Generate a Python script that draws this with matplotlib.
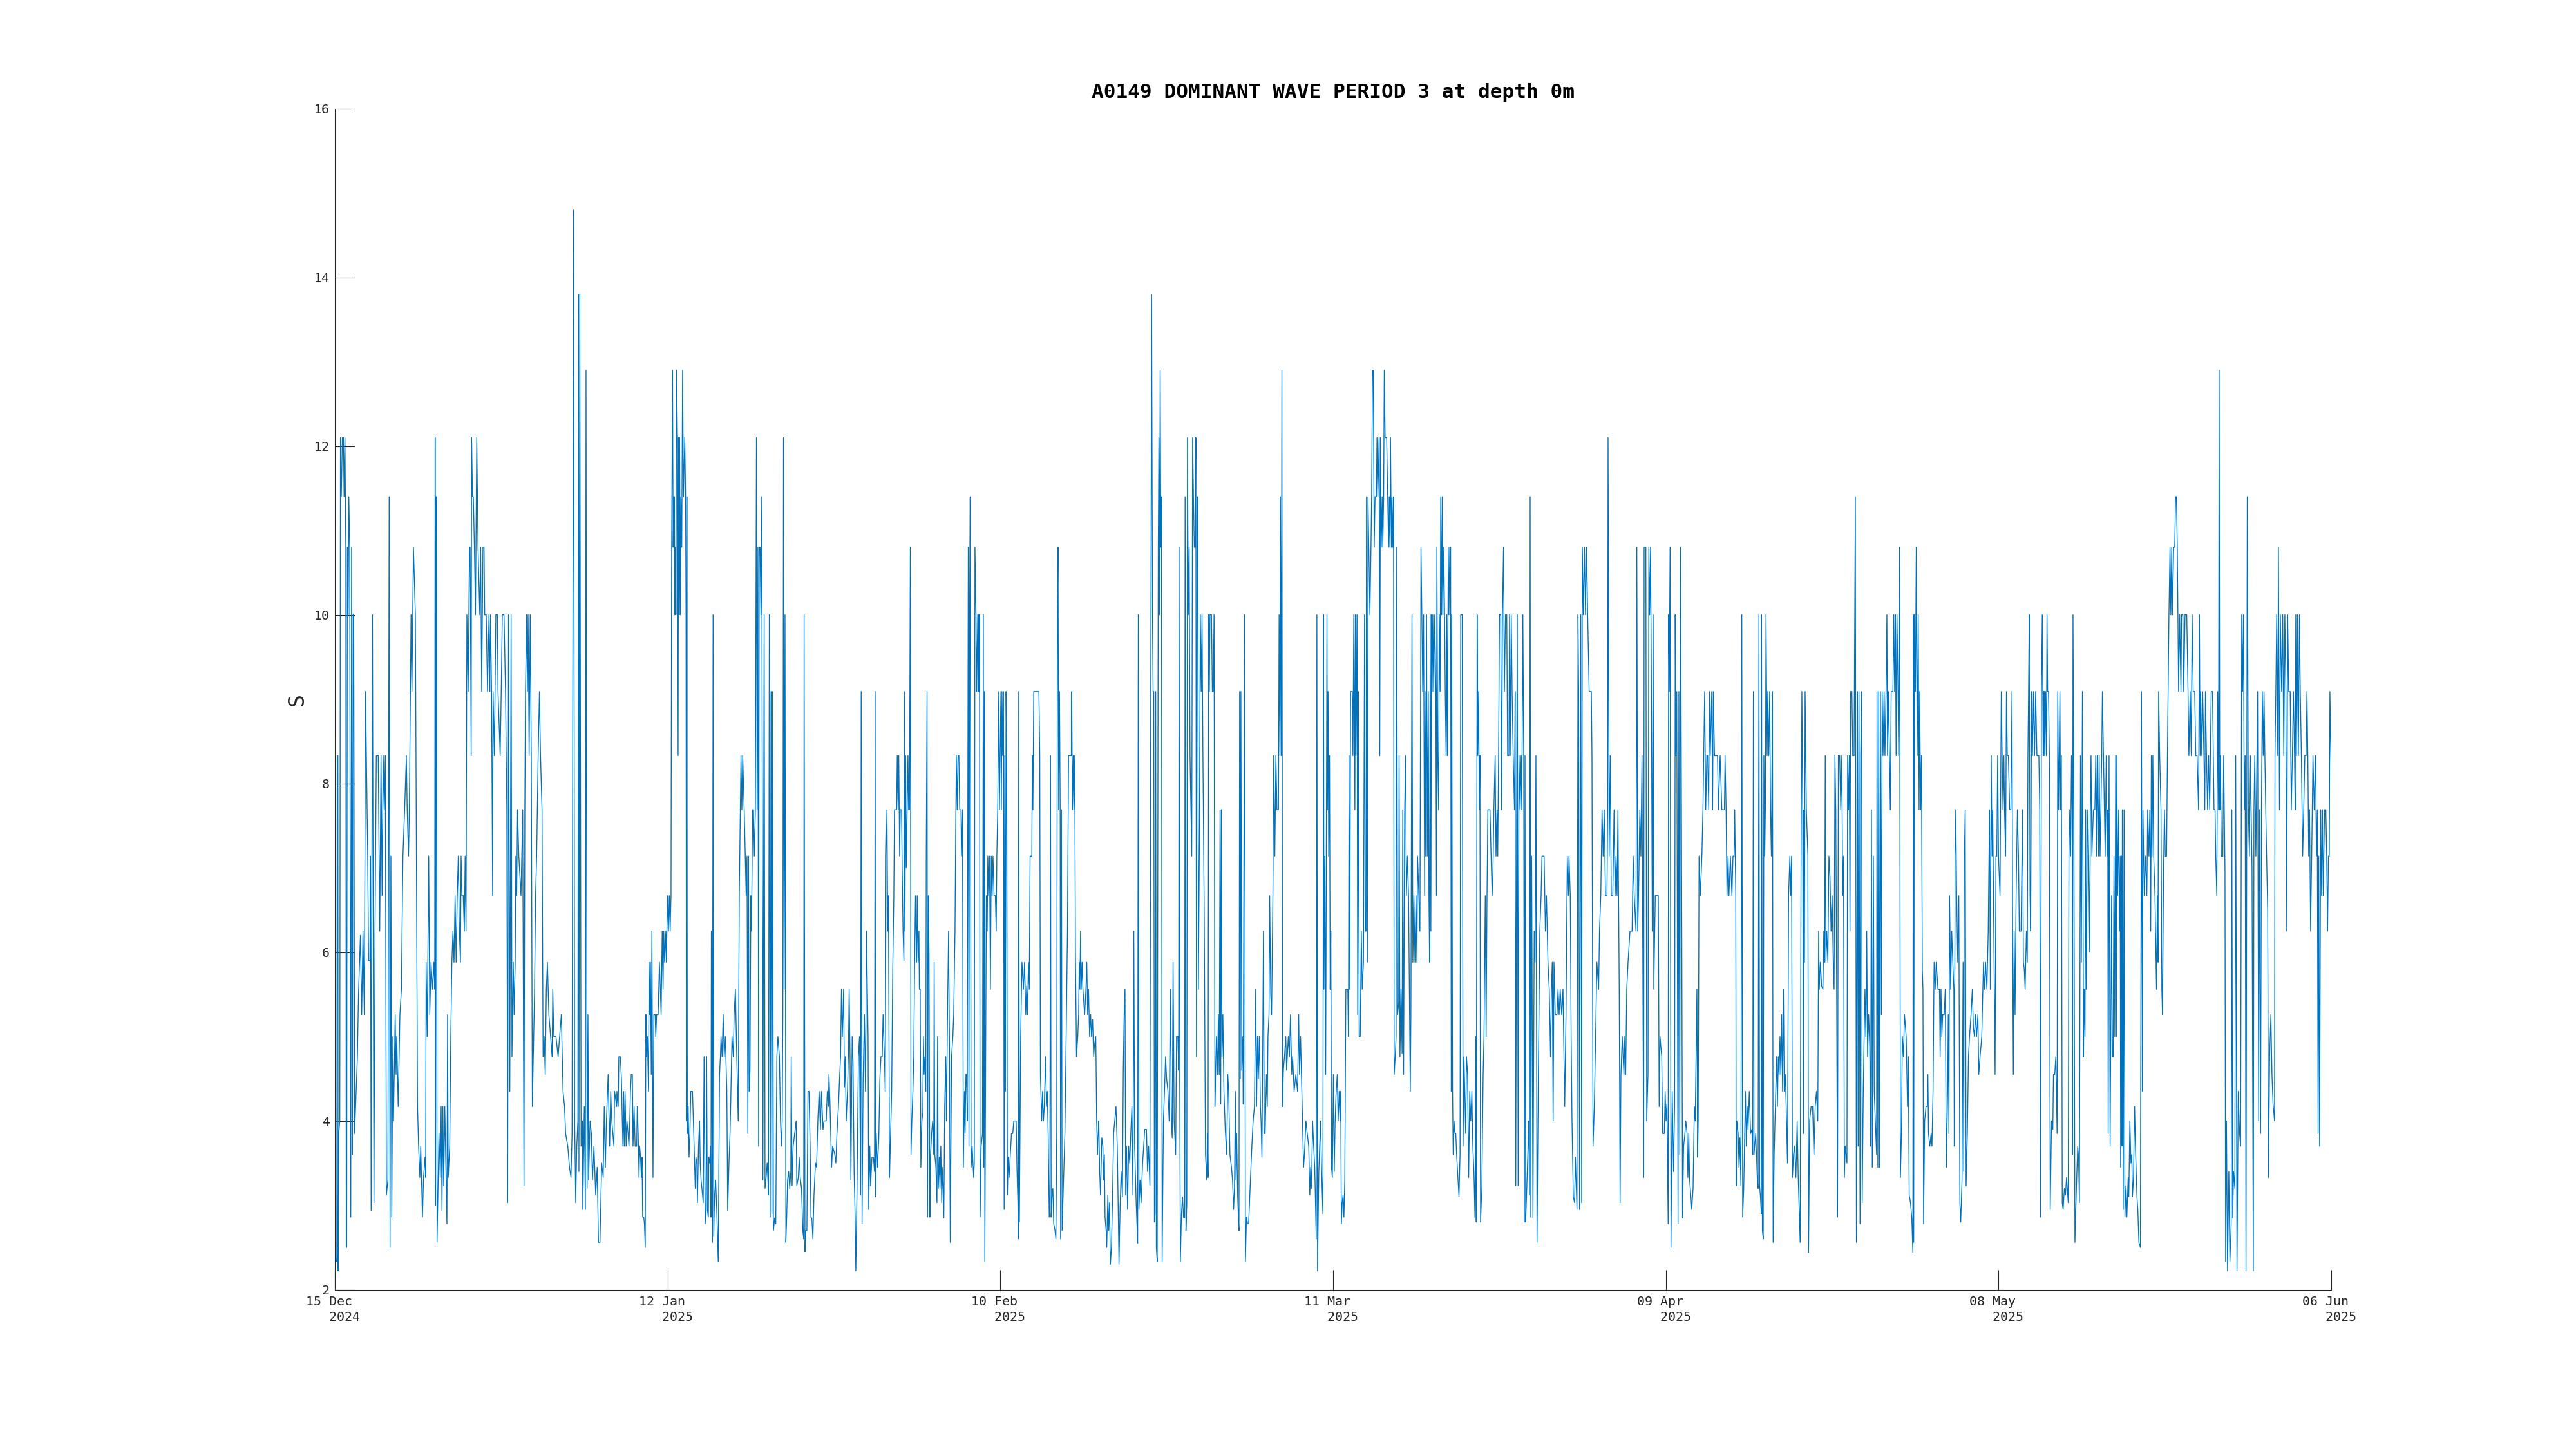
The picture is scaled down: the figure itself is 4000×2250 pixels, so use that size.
import numpy as np
import matplotlib
matplotlib.use('Agg')
import matplotlib.pyplot as plt
import matplotlib.dates as mdates
from matplotlib.transforms import ScaledTranslation

# 读图得到的数据: 每段是 t, 周期 交替排列, t 的单位是 1/53.76 天, 从该段起点算
SCAN_PER_DAY = 53.76
block_start = [-0.28, 24.44, 49.16, 73.88, 98.61, 123.33, 148.05]

block_a = [15,2.6, 20,2.33, 24,2.33, 26,8.33, 29,8.33, 30,2.22, 33,3.85, 38,4.0, 41,12.1, 45,11.4, 50,12.1, 55,12.1,
    58,11.4, 62,12.1, 66,10.8, 68,2.5, 70,2.5, 73,10.8, 77,10, 80,11.4, 84,10.8, 89,2.86, 93,10.8, 97,3.6, 100,10, 103,10,
    107,3.85, 120,4.76, 125,5.5, 130,5.9, 134,6.2, 140,5.26, 146,6.25, 152,5.26, 158,9.09, 168,7.14, 172,5.9, 178,5.9,
    181,7.14, 184,2.94, 190,10, 197,3.03, 202,6.25, 208,8.33, 217,8.33, 224,6.25, 230,8.33, 235,6.67, 240,8.33, 245,7.69,
    250,8.33, 255,3.12, 262,3.3, 268,11.4, 272,2.5, 276,7.14, 280,2.86, 285,5, 288,4, 296,5.26, 300,4.55, 303,5, 310,4.17,
    318,5.26, 325,5.56, 332,7.14, 340,7.69, 348,8.33, 352,7.69, 358,7.14, 362,7.69, 370,10, 374,9.09, 381,10.8, 390,10,
    400,4.17, 405,3.7, 411,3.33, 415,3.7, 423,2.86, 428,3.33, 435,3.57, 438,3.33, 440,5.88, 445,5, 452,7.14, 457,5.26,
    463,5.88, 470,5.56, 476,5.88, 480,5.56, 482,12.1, 484,3.0, 486,11.4, 488,11.4, 491,2.56, 500,3.85, 506,3.33, 510,4.17,
    514,2.94, 518,4.17, 522,3.23, 527,4.17, 537,2.78, 540,5.26, 543,3.33, 550,3.7, 555,5, 560,5.88, 565,6.25, 570,5.88,
    575,6.67, 580,5.88, 585,6.67, 590,7.14, 595,6.25, 600,5.88, 603,7.14, 607,6.67, 613,6.67, 618,6.25, 622,7.14, 626,6.25,
    630,10, 636,9.09, 642,10.8, 645,10.8, 650,8.33, 652,12.1, 656,11.4, 660,11.4, 665,10.8, 670,10, 676,12.1, 682,10.8,
    690,10, 694,10.8, 699,9.09, 705,10.8, 710,10.8, 713,10, 720,10, 726,9.09, 733,10, 737,9.09, 740,10, 745,9.09, 750,6.67,
    752,9.09, 758,8.33, 765,10, 772,10, 775,9.09, 785,8.33, 790,9.09, 795,10, 803,10, 810,9.09, 816,7.69, 820,3.03, 824,10,
    830,4.35, 836,10, 840,4.76, 846,5.88, 850,5.26, 855,5.88, 858,7.14, 862,6.67, 866,7.69, 872,7.14, 882,6.67, 890,7.69,
    896,3.23, 900,7.69, 903,9.09, 908,10, 912,9.09, 915,10, 920,8.33, 925,10, 930,8.33, 935,4.17, 945,5.5, 950,6.67,
    955,7.14, 962,8.33, 968,9.09, 973,8.33, 980,7.69, 985,4.76, 990,5, 995,4.55, 1000,5.56, 1005,5.88, 1012,5.26, 1020,5,
    1027,4.76, 1030,5.56, 1035,5, 1045,5, 1055,4.76, 1062,5, 1070,5.26, 1078,4.35, 1085,4.17, 1090,3.85, 1100,3.7,
    1108,3.45, 1115,3.33, 1120,3.85, 1127,14.8, 1132,4, 1137,3.03, 1142,3.7, 1147,4, 1150,13.8, 1152,3.4, 1156,13.8,
    1162,3.7, 1168,4, 1170,2.95, 1177,4.17, 1182,2.95, 1185,12.9, 1190,3.2, 1194,5.26, 1197,3.3, 1204,4, 1210,3.85,
    1215,3.3, 1222,3.7, 1230,3.12, 1237,3.45, 1243,2.56, 1250,2.56, 1258,3.5, 1265,3.33, 1270,4.17, 1275,3.45, 1280,4,
    1288,4.55, 1295,3.7, 1300,4.35, 1305,4, 1315,3.7, 1318,4.35, 1328,4.17]

block_b = [0,4.35, 6,4.17, 9,4.76, 16,4.76, 21,4.5, 25,4, 28,3.7, 31,4.35, 34,3.7, 38,4.35, 43,3.7, 47,4, 52,3.85, 56,3.7,
    60,4, 63,4.35, 67,4.55, 72,4.55, 75,3.7, 80,4.17, 85,3.7, 92,3.7, 95,4.17, 99,3.85, 103,3.33, 106,3.7, 110,3.57,
    114,3.33, 117,3.57, 120,2.86, 125,2.86, 128,2.78, 132,2.5, 135,5.26, 138,4.76, 142,5, 147,4.35, 150,5.88, 153,5.26,
    156,5.88, 160,4.55, 163,6.25, 168,3.33, 172,5.26, 178,5.26, 181,5, 185,5.26, 192,5.26, 198,5.88, 202,5.56, 206,5.26,
    211,6.25, 215,5.56, 218,6.25, 222,5.88, 228,6.25, 230,5.88, 236,6.67, 240,6.25, 244,6.67, 248,6.25, 252,6.67, 255,10.8,
    259,12.9, 262,10.8, 265,11.4, 268,11.4, 270,10, 273,10.8, 275,10, 278,12.9, 282,12.1, 285,8.33, 287,12.1, 290,10,
    292,12.1, 295,10, 298,11.4, 302,10.8, 306,12.9, 310,11.4, 316,12.1, 320,11.4, 322,10, 324,4, 326,11.4, 328,3.85,
    332,4.17, 336,3.57, 340,3.85, 344,4.35, 352,4.35, 358,3.85, 365,3.2, 368,3.57, 372,3.5, 375,3.03, 380,3.7, 385,4,
    388,3.5, 392,3.3, 396,3.2, 402,3.03, 406,4.76, 411,2.78, 415,2.95, 418,4.76, 421,2.95, 426,2.86, 428,3.57, 432,3.5,
    436,3.7, 438,2.86, 440,6.25, 445,2.56, 448,10, 451,2.63, 455,3.12, 460,3.3, 465,2.95, 472,2.33, 478,4.55, 482,4.76,
    485,5, 490,4.76, 495,5.26, 500,4.76, 505,5, 512,4.35, 516,2.94, 522,3.5, 527,3.85, 530,4.2, 536,5, 542,4.76, 546,5.26,
    552,5.56, 558,4.8, 565,4, 570,6.67, 575,7.69, 578,8.33, 582,7.69, 586,8.33, 593,7.69, 598,7.14, 602,6.67, 606,7.14,
    610,3.85, 613,7.14, 616,4.35, 620,4.6, 624,6.67, 627,6.25, 632,7.69, 636,7.69, 640,7.14, 645,7.69, 650,12.1, 653,7.69,
    657,10.8, 660,3.7, 663,10.8, 667,10.8, 671,10, 675,11.4, 680,3.3, 686,10, 690,3.2, 695,3.33, 700,3.5, 703,3.33, 706,3.12,
    710,10, 714,2.86, 718,9.09, 722,2.9, 725,9.09, 729,2.7, 735,2.85, 740,2.78, 745,4.76, 750,5, 757,4.76, 762,4.0, 766,3.7,
    770,4, 773,5.26, 776,12.1, 779,5.56, 783,10, 787,2.56, 791,2.86, 795,3.3, 800,3.4, 805,3.2, 810,3.4, 812,4.76, 816,3.23,
    821,3.7, 828,3.85, 835,4, 838,3.23, 845,3.33, 849,3.57, 854,3.33, 860,3.2, 866,2.7, 870,2.6, 872,10, 876,2.45, 880,2.7,
    885,2.7, 890,4.35, 895,4.35, 900,3.7, 904,2.85, 908,2.85, 913,2.6, 918,3.12, 925,3.5, 930,3.45, 936,4, 942,4.35, 948,3.9,
    953,4.35, 960,3.9, 965,4, 975,4, 980,4.35, 985,4.17, 988,4.55, 993,4.17, 1000,3.45, 1005,3.7, 1015,3.6, 1020,3.5,
    1025,3.85, 1032,4.17, 1038,4.55, 1042,4.76, 1046,5.56, 1050,5, 1056,5.56, 1060,4.4, 1064,4.76, 1068,4, 1074,4.35,
    1078,4.76, 1082,5.56, 1086,4.76, 1090,3.3, 1096,5, 1100,4.7, 1105,3.4, 1110,2.85, 1113,2.22, 1118,3.1, 1125,4.76, 1130,5,
    1135,3.12, 1138,9.09, 1142,2.78, 1147,4.5, 1153,5.26, 1158,4.35, 1163,6.25, 1170,5, 1173,2.95, 1178,3.7, 1182,3.23,
    1188,3.57, 1195,3.57, 1200,3.4, 1203,9.09, 1205,3.1, 1208,3.85, 1214,3.45, 1220,3.8, 1225,4.5, 1230,4.76, 1236,4.76,
    1240,5.26, 1246,4.8, 1250,4.35, 1254,7.14, 1258,7.69, 1262,6.25, 1265,6.67, 1270,3.33, 1280,4.35, 1285,5.8, 1290,6.67,
    1293,7.69, 1303,7.69, 1306,8.33, 1310,7.69, 1313,8.33, 1317,7.14, 1320,7.69, 1326,7.69]

block_c = [0,7, 4,6.25, 8,5.9, 10,9.09, 13,6.25, 16,8.33, 19,7, 23,7.69, 27,8.33, 30,7.69, 34,7.69, 38,10.8, 41,3.6, 45,4,
    50,4.35, 54,4.76, 58,5.88, 62,6.67, 67,5.88, 70,6.67, 74,5.88, 78,6.25, 80,5.56, 84,5.56, 87,3.45, 92,4, 96,4.1, 99,5,
    102,4.55, 106,4.76, 110,4.35, 112,7.14, 116,9.09, 118,2.86, 122,6.67, 125,6, 129,2.86, 132,3.57, 137,3.85, 142,4, 147,3.6,
    149,5.88, 152,3.6, 157,3.45, 162,3.03, 165,5, 168,3.2, 173,3.57, 176,3.2, 180,3.7, 184,3.03, 189,3.45, 194,2.85, 198,4.17,
    203,4.76, 206,4, 210,5, 216,6.25, 220,5, 224,2.56, 230,4.76, 236,5, 240,5.26, 246,6.25, 252,8.33, 256,7.69, 260,8.33,
    264,8.33, 268,7.69, 274,7.69, 276,7.14, 281,7.69, 285,3.45, 290,4.35, 293,3.85, 297,4.55, 300,4.55, 303,4.0, 308,10.8,
    311,3.7, 314,10, 317,11.4, 321,3.45, 326,3.7, 333,3.33, 336,3.5, 339,10.8, 344,10, 347,9.09, 352,10, 354,9.09, 356,10,
    359,9.09, 360,10, 363,2.86, 368,3.7, 374,3.85, 378,10, 380,3.45, 383,9.09, 385,2.33, 392,6.67, 396,6.25, 399,7.14,
    403,6.67, 407,7.14, 411,5.56, 415,7.14, 419,6.67, 423,7.14, 428,6.67, 434,6.67, 438,6.25, 441,7.14, 445,7.69, 450,9.09,
    453,7.69, 456,8.33, 460,9.09, 462,7.69, 465,9.09, 468,8.33, 472,9.09, 475,2.95, 478,8.33, 481,4.35, 484,9.09, 487,8.33,
    490,3.12, 494,3.57, 498,3.33, 503,3.57, 509,3.85, 515,3.85, 520,4, 526,4, 531,4, 535,3.4, 539,3.03, 541,2.6, 543,9.09,
    546,2.8, 552,5, 558,5.88, 565,5.56, 570,5.88, 576,5.26, 580,5.6, 584,5.26, 588,5.88, 592,5.56, 596,7.14, 604,7.14,
    606,8.33, 609,7.69, 613,9.09, 637,9.09, 641,8.33, 644,4.55, 650,4, 654,4.35, 658,4, 662,4.17, 668,4.76, 672,4.17,
    676,4.35, 680,3.85, 685,2.86, 688,3.1, 691,8.33, 694,2.86, 698,3.1, 702,3.2, 706,2.78, 712,2.7, 716,2.6, 720,3.85,
    723,10, 726,10.8, 729,7.69, 733,9.09, 736,7.69, 738,2.6, 742,7.69, 745,2.7, 752,3.33, 758,3.85, 764,5, 770,6.25, 775,8.33,
    782,8.33, 788,8.33, 790,9.09, 793,7.69, 797,8.33, 800,7.69, 804,8.33, 807,6, 812,4.76, 818,5, 822,5.26, 825,5.88,
    828,5.56, 831,6.25, 834,5.56, 838,5.88, 842,5.56, 850,5.26, 856,5.56, 860,5.88, 864,5.26, 868,5.56, 873,5, 878,5.26,
    882,5, 887,5.2, 892,4.76, 896,4.9, 902,5, 906,4.0, 910,3.6, 913,3.85, 916,4, 920,3.4, 924,3.12, 930,3.8, 935,3.7, 938,3.3,
    942,3.6, 945,2.86, 950,2.7, 953,2.5, 958,3.12, 962,2.7, 966,3.03, 970,2.3, 975,2.5, 980,3.1, 985,3.85, 990,4, 996,4.17,
    1002,3.7, 1006,3.03, 1010,2.3, 1015,2.95, 1020,3.4, 1026,3.1, 1030,4.6, 1034,5.26, 1038,5.56, 1041,3.12, 1045,3.7,
    1050,2.95, 1055,3.7, 1060,3.5, 1065,3.85, 1070,4.17, 1075,3.12, 1079,6.25, 1083,3.7, 1090,3.03, 1097,2.55, 1100,10,
    1103,2.95, 1108,3.3, 1113,3.03, 1120,3.5, 1125,3.7, 1130,3.9, 1138,3.9, 1143,3.4, 1148,3.7, 1154,3.23, 1158,9.09,
    1162,13.8, 1166,10, 1169,9.09, 1172,9.09, 1175,2.8, 1178,2.9, 1181,9.09, 1184,2.5, 1188,2.33, 1193,10.8, 1196,12.1,
    1199,10, 1202,12.9, 1205,10.8, 1208,11.4, 1211,2.33, 1217,4.0, 1222,4.35, 1227,4.76, 1232,4.5, 1238,4.35, 1244,4,
    1249,5.56, 1254,4, 1258,3.8, 1262,5.88, 1267,4, 1274,3.6, 1278,5, 1284,5, 1288,4.6, 1290,10.8, 1293,4.5, 1296,2.33,
    1301,2.9, 1306,3.1, 1311,2.85, 1316,2.85, 1318,11.4, 1322,2.7, 1326,3.03]

block_d = [0,12.1, 4,10, 8,10.8, 12,8.33, 20,7.14, 24,12.1, 28,11.4, 32,10.8, 36,10.8, 39,12.1, 42,4.76, 45,11.4, 48,11.4,
    51,5.56, 56,7.5, 60,10, 64,9.09, 68,10, 72,8.33, 78,6.5, 84,3.6, 90,3.3, 93,3.85, 96,3.33, 99,10, 102,9.09, 105,10,
    112,10, 116,9.09, 120,9.09, 124,10, 128,4.17, 131,4.55, 135,5, 140,4.55, 144,5.26, 148,4.55, 152,7.69, 155,4.2, 158,7.69,
    161,4.76, 165,5.26, 170,4.35, 176,3.9, 183,3.6, 188,4.55, 192,4.35, 198,3.6, 205,3.45, 210,3.3, 215,2.95, 219,3.2,
    223,4.35, 226,3.3, 229,3.85, 234,3.1, 238,2.8, 240,2.7, 243,9.09, 246,4.5, 249,9.09, 253,4.6, 258,5, 260,4.2, 266,10,
    270,2.33, 275,2.86, 280,2.78, 285,2.78, 290,3.1, 295,3.4, 300,3.7, 306,4, 312,4.17, 318,5.56, 322,4.17, 326,5, 330,4.5,
    335,5, 340,4.17, 343,4, 347,3.57, 350,4.55, 354,6.25, 358,3.85, 362,3.85, 368,4.55, 372,4.17, 375,5, 380,5.26, 383,6.67,
    388,5.5, 392,5.26, 398,6.67, 402,8.33, 407,7.14, 412,8.33, 417,7.69, 424,7.69, 427,10, 431,8.33, 433,11.4, 437,8.33,
    440,12.9, 443,4.17, 447,4.6, 452,4.76, 458,5, 462,4.6, 470,5, 475,4.76, 480,5.26, 486,4.55, 490,4.76, 497,4.35, 505,4.55,
    513,4.35, 518,5.26, 522,4.55, 527,5, 533,4.35, 541,3.45, 545,3.6, 552,4, 558,3.85, 565,3.7, 570,3.12, 574,3.45, 578,3.2,
    583,4, 588,3.7, 593,3.45, 600,2.6, 603,10, 606,2.22, 612,3.4, 620,4, 625,3.4, 631,2.9, 634,10, 636,5.56, 640,7.14, 644,4.55,
    650,10, 652,7.69, 655,9.09, 658,7.14, 662,8.33, 665,5.56, 668,6.25, 671,3.45, 675,3.33, 680,4.55, 684,3.4, 688,4.0,
    692,4.3, 698,4.55, 702,4, 707,4.35, 711,4, 714,4.35, 717,2.78, 721,3.03, 725,3.12, 729,2.86, 733,3.3, 738,5.56, 747,5.56,
    750,5, 753,8.33, 756,5.56, 760,9.09, 768,9.09, 771,8.33, 775,10, 777,9.09, 780,7.69, 782,10, 785,8.33, 790,10, 793,5.26,
    797,9.09, 800,5, 805,5, 810,6.25, 814,5.56, 820,5.88, 825,10, 828,6.25, 832,6.25, 834,11.4, 838,5.88, 841,11.4, 845,10.8,
    850,10, 855,10.8, 858,11.4, 862,12.9, 866,12.9, 870,10.8, 874,11.4, 880,11.4, 883,12.1, 887,11.4, 893,12.1, 896,8.33,
    899,12.1, 903,10.8, 907,11.4, 910,10.8, 914,11.4, 917,12.9, 921,12.1, 928,12.1, 933,11.4, 937,10.8, 940,11.4, 943,10.8,
    946,12.1, 950,10.8, 953,11.4, 957,10.8, 960,11.4, 963,4.55, 968,4.76, 972,5, 975,10.8, 979,5.26, 984,5.4, 986,8.33,
    990,4.76, 995,5.56, 1000,4.8, 1003,7.69, 1007,4.55, 1012,7.69, 1016,8.33, 1020,6.67, 1025,7.14, 1030,6.67, 1038,4.35,
    1041,5.26, 1046,10, 1050,5.88, 1055,6.67, 1060,5.88, 1065,6.67, 1069,5.88, 1072,7.14, 1078,6.67, 1083,6.25, 1088,10.8,
    1092,10, 1096,9.09, 1100,10, 1105,6.67, 1107,9.09, 1110,7.14, 1114,10, 1117,7.14, 1122,9.09, 1125,6.67, 1128,5.88, 1131,10,
    1134,6.25, 1137,10, 1140,9.09, 1143,10, 1147,9.09, 1152,10, 1157,9.09, 1160,6.67, 1162,10.8, 1166,8.33, 1170,7.69, 1173,10,
    1177,9.09, 1180,11.4, 1184,10, 1187,11.4, 1190,10, 1194,10.8, 1198,10, 1201,9.09, 1205,8.33, 1208,10, 1211,8.33, 1215,10.8,
    1218,10, 1222,10.8, 1226,10.8, 1229,4.35, 1231,10, 1235,4.35, 1238,3.6, 1242,4, 1246,3.85, 1250,3.85, 1254,3.6, 1260,3.33,
    1265,3.1, 1270,3.6, 1273,10, 1280,10, 1284,3.7, 1288,4.76, 1292,4.35, 1296,3.85, 1300,4.76, 1305,4.55, 1310,3.33, 1315,4.35,
    1320,4, 1325,4.35]

block_e = [0,3.7, 5,3.4, 10,2.85, 14,5.0, 16,2.8, 20,10, 23,8.33, 27,9.09, 30,7.69, 33,8.33, 36,2.8, 42,3.2, 48,4.55, 52,5,
    58,6.67, 62,5, 66,6.67, 70,7.69, 80,7.69, 85,7.14, 90,6.67, 95,7.14, 98,7.69, 104,8.33, 108,7.14, 113,7.69, 116,7.14,
    120,8.33, 124,10, 130,10, 134,7.69, 138,10, 143,10.8, 147,9.09, 152,10, 158,10, 162,8.33, 168,8.33, 171,10, 174,8.33,
    179,10, 183,9.09, 188,8.33, 194,7.69, 197,9.09, 200,3.23, 204,7.69, 207,10, 211,3.23, 215,8.33, 220,7.69, 225,8.33,
    228,7.69, 233,10, 237,8.33, 240,2.8, 243,8.33, 246,2.8, 250,3.1, 256,3.6, 260,4, 264,3.12, 267,11.4, 270,2.86, 274,7.14,
    280,2.85, 286,6.25, 290,5.88, 294,8.33, 299,2.56, 305,4.5, 312,6.25, 318,6.67, 322,7.14, 332,7.14, 338,6.25, 343,6.67,
    350,5.88, 356,5.56, 362,4.76, 366,5.56, 370,5.88, 374,4, 378,5.88, 384,5.26, 392,5.26, 397,5.56, 402,5.26, 407,5.56,
    414,5.26, 420,5.56, 428,4.17, 434,5.26, 440,7.14, 445,6.67, 448,7.14, 454,6.67, 458,5, 462,4, 468,3.1, 474,3.03, 478,3.57,
    485,2.95, 490,10, 493,9.09, 497,2.95, 503,10, 507,3.03, 510,10.8, 515,10, 520,10.8, 525,10, 530,10.8, 535,10, 542,9.09,
    552,9.09, 555,8.33, 560,3.7, 566,4.17, 572,5, 578,5.88, 586,5.56, 590,6.25, 596,6.67, 602,7.69, 607,7.14, 612,7.69,
    618,6.67, 625,6.67, 628,7.69, 630,12.1, 635,7.14, 640,8.33, 645,6.67, 652,6.67, 658,7.69, 663,6.67, 667,7.14, 672,6.67,
    676,7.69, 682,5.56, 686,3.03, 690,4.55, 696,5, 700,4.76, 704,4.55, 708,5, 712,4.55, 717,5.56, 723,5.88, 732,6.25, 742,6.25,
    747,7.14, 752,6.67, 760,6.25, 764,10.8, 768,6.25, 772,6.67, 778,7.69, 783,7.14, 788,8.33, 796,3.33, 798,10.8, 806,10.8,
    810,4, 816,4.55, 820,10.8, 824,10, 828,10.8, 832,9.09, 836,6.25, 840,10, 843,5.56, 850,6.67, 864,6.67, 868,4.17, 872,5,
    880,4.76, 884,3.85, 892,3.85, 896,4.35, 900,4.0, 904,4.2, 910,2.78, 912,10, 915,9.09, 919,10.8, 923,2.5, 929,4.35, 935,3.4,
    940,4.17, 943,10, 946,8.33, 950,9.09, 956,2.78, 960,9.09, 964,3.6, 968,10.8, 972,7.69, 977,2.85, 982,3.7, 988,3.85, 992,4,
    998,3.85, 1002,3.33, 1006,3.85, 1010,3.3, 1016,3.1, 1020,2.95, 1026,3.2, 1032,4.17, 1036,4, 1041,5, 1044,5.56, 1047,3.57,
    1050,4, 1054,7.14, 1060,6.67, 1067,7.14, 1072,7.69, 1080,9.09, 1085,7.69, 1090,8.33, 1094,8.33, 1099,7.69, 1102,9.09,
    1106,8.33, 1113,9.09, 1117,7.69, 1120,9.09, 1126,8.33, 1133,8.33, 1140,8.33, 1144,7.69, 1152,8.33, 1160,7.69, 1172,7.69,
    1175,8.33, 1180,7.69, 1184,6.67, 1189,7.14, 1193,6.67, 1200,7.14, 1207,6.67, 1212,7.14, 1217,7.14, 1220,7.69, 1225,6.67,
    1227,3.23, 1230,4, 1236,3.85, 1240,3.45, 1244,3.8, 1249,3.23, 1253,10, 1257,2.86, 1262,3.2, 1270,4.35, 1274,3.7, 1278,4.17,
    1282,3.9, 1288,4.35, 1294,3.85, 1300,3.9, 1304,3.6, 1307,9.09, 1310,3.6, 1318,3.85, 1325,3.33, 1329,3.2]

block_f = [4,10, 7,3.23, 11,3.1, 15,2.9, 16,10, 20,2.7, 24,2.6, 27,8.33, 31,7.14, 34,7.69, 37,10, 42,8.33, 45,9.09, 50,8.33,
    54,9.09, 58,7.69, 62,7.14, 67,9.09, 70,2.56, 75,3.6, 82,4.35, 86,4.76, 90,4.17, 94,4.76, 98,4.55, 102,5, 106,4.55, 110,5.26,
    114,4.35, 118,5.56, 122,4.35, 127,4.55, 131,4.17, 137,3.5, 142,6.67, 148,7.14, 152,6.67, 156,7.14, 160,3.33, 165,3.6,
    170,3.7, 176,3.33, 182,4, 187,3.33, 192,2.9, 196,2.56, 200,7, 204,9.09, 208,7.69, 211,3.85, 213,7.69, 216,5.88, 219,9.09,
    225,7.69, 232,7.14, 235,2.44, 240,4, 247,4.17, 254,4.17, 260,3.6, 266,4.17, 272,4.35, 278,4, 282,6.25, 285,5.56, 290,5.88,
    296,5.6, 302,5.56, 306,6.25, 310,5.88, 313,8.33, 316,5.88, 320,6.25, 325,5.88, 330,7.14, 335,6.9, 340,6.25, 345,6.67,
    350,5.88, 354,5.56, 358,8.33, 362,7.69, 366,5.5, 370,2.86, 374,8.33, 380,8.33, 385,7.69, 390,8.33, 394,6.67, 398,7.14,
    402,3.33, 406,3.7, 414,3.5, 417,8.33, 421,7.69, 425,8.33, 428,6.25, 431,9.09, 437,9.09, 441,8.33, 447,8.33, 453,11.4,
    458,2.56, 463,9.09, 466,3.7, 470,9.09, 475,2.78, 478,8.33, 482,9.09, 485,3.03, 490,4.35, 494,5, 498,5.56, 502,5, 506,6.25,
    510,4.76, 515,5.26, 520,4.9, 524,3.7, 528,7.69, 532,3.45, 537,7.14, 541,4.35, 546,4, 552,3.6, 554,9.09, 558,3.45, 562,9.09,
    566,3.45, 570,9.09, 574,5.26, 578,9.09, 582,8.33, 587,9.09, 591,8.33, 596,9.09, 600,10, 603,8.33, 607,9.09, 612,8.33,
    616,7.69, 620,9.09, 628,9.09, 632,10, 636,9.09, 640,10, 643,8.33, 647,10, 652,9.09, 655,8.33, 659,10.8, 663,3.33, 668,3.85,
    672,5, 677,4.76, 682,5.26, 690,5, 696,4.17, 700,4.76, 704,3.12, 710,3.03, 716,2.85, 721,2.44, 723,10, 725,2.56, 728,10,
    733,9.09, 737,10.8, 741,8.33, 746,10, 750,7.69, 753,9.09, 757,7.69, 761,8.33, 765,5.8, 768,5.56, 771,2.78, 776,4, 782,4.17,
    788,4.17, 791,4.55, 794,3.85, 800,3.7, 806,3.85, 810,3.7, 815,4.35, 820,5.88, 825,5.56, 830,5.88, 838,5.56, 845,5.56,
    848,4.76, 852,5.56, 856,5, 860,5.26, 867,5.26, 872,5.56, 877,3.45, 883,4.35, 886,5.26, 889,3.85, 892,6.67, 897,5.56,
    902,6.25, 907,5.88, 912,5.56, 914,3.7, 918,7.14, 921,7.69, 925,6.67, 930,5.88, 935,6.67, 940,3.03, 944,2.8, 950,3.3,
    955,5.88, 958,3.4, 961,7.14, 965,7.69, 969,3.23, 975,3.85, 980,4.76, 985,5, 992,5.26, 998,5.56, 1003,5.1, 1008,5, 1012,5.26,
    1018,5, 1024,5.26, 1028,4.55, 1034,4.76, 1042,5, 1050,5.88, 1055,5.56, 1060,5.88, 1066,5.56, 1072,6.25, 1078,7.69, 1082,5.56,
    1086,8.33, 1090,7.14, 1093,7.69, 1098,6.25, 1104,4.55, 1108,7.14, 1112,7.14, 1116,8.33, 1120,7.14, 1127,6.67, 1133,9.09,
    1137,8.33, 1141,7.69, 1145,8.33, 1148,7.69, 1153,7.14, 1157,9.09, 1161,8.33, 1166,8.33, 1172,7.69, 1178,7.69, 1183,9.09,
    1186,6, 1189,4.55, 1193,6.25, 1197,5.26, 1202,6.67, 1208,7.69, 1213,7.14, 1217,6.25, 1225,6.25, 1232,7.69, 1236,5.88,
    1240,5.8, 1244,5.56, 1250,6.25, 1254,5.88, 1257,8.33, 1260,9.09, 1263,10, 1267,6.67, 1270,6.25, 1274,9.09, 1278,8.33,
    1283,9.09, 1288,8.33, 1293,9.09, 1299,8.33, 1308,8.33, 1312,7.69, 1316,2.86, 1320,9.09, 1324,10, 1328,8.33, 1332,9.09]

block_g = [0,8.33, 3,9.09, 6,8.33, 10,9.09, 14,8.33, 17,10, 20,9.09, 24,9.09, 28,8.33, 32,2.95, 38,4, 44,3.9, 47,4.55, 53,4.55,
    58,4.76, 64,3.85, 67,9.09, 71,7.69, 74,8.33, 77,9.09, 80,7.69, 84,8.33, 88,3.03, 92,2.95, 98,3.2, 103,3.12, 108,3.33, 116,3.03,
    119,7.14, 123,7.69, 127,7.14, 131,8.33, 134,7.69, 136,3.6, 138,10, 142,7.69, 147,2.56, 155,3.3, 160,3.7, 164,3.57, 168,3.03,
    173,8.33, 177,5.88, 182,9.09, 187,4.76, 190,5.56, 194,5, 197,7.69, 200,5.56, 204,7.14, 207,7.69, 211,7.14, 216,6, 219,7.69,
    222,8.33, 226,7.14, 233,7.69, 240,7.69, 244,8.33, 247,7.14, 251,8.33, 256,7.14, 260,8.33, 264,7.14, 268,7.69, 272,8.33,
    275,9.09, 280,8.33, 288,7.14, 293,8.33, 297,7.14, 300,7.69, 302,3.85, 306,8.33, 311,3.7, 318,6.67, 321,4.76, 325,4.76,
    329,7.14, 333,5.0, 337,8.33, 340,5, 342,8.33, 346,6.67, 351,7.69, 354,6.25, 358,7.14, 360,3.45, 364,7.14, 366,3.7, 368,7.69,
    372,2.95, 376,7.69, 380,2.86, 385,3.23, 389,2.86, 395,3.33, 398,3.1, 403,4, 408,3.5, 412,3.6, 415,3.1, 420,3.33, 425,4.17,
    430,3.6, 436,3.1, 440,2.95, 445,2.56, 452,2.5, 457,9.09, 461,4.35, 464,7.69, 470,6.67, 476,7.14, 482,6.67, 486,7.69, 492,7.14,
    496,7.69, 500,6.25, 503,8.33, 506,7.14, 510,8.33, 514,7.14, 520,6.67, 527,5.56, 531,6.67, 534,5.88, 537,9.09, 542,8.33,
    548,7.69, 552,5.56, 555,5.26, 560,7, 564,7.69, 568,7.14, 574,7.14, 578,8.33, 585,10, 590,10.8, 594,10, 598,10.8, 602,10,
    607,10.8, 612,10.8, 616,11.4, 620,11.4, 624,10.8, 630,9.09, 635,10, 641,9.09, 644,10, 650,10, 654,9.09, 660,10, 668,10,
    674,9.09, 678,8.33, 684,9.09, 689,8.33, 693,10, 698,9.09, 705,9.09, 710,8.33, 716,8.33, 723,7.69, 727,10, 730,8.33, 733,9.09,
    738,8.33, 742,9.09, 748,8.33, 752,7.69, 755,9.09, 760,8.33, 765,7.69, 770,8.33, 775,7.69, 782,9.09, 788,9.09, 795,7.69,
    800,7.69, 803,7.14, 808,6.67, 812,9.09, 816,7.69, 819,12.9, 822,7.69, 825,8.33, 829,7.14, 836,7.14, 840,8.33, 846,7, 849,2.33,
    853,4, 858,2.22, 864,3.4, 869,2.33, 875,2.78, 878,7.69, 882,2.85, 886,3.4, 892,3.2, 896,8.33, 902,2.22, 908,4.35, 914,3.85,
    919,3.7, 924,10, 928,9.09, 932,10, 936,7.69, 940,8.33, 944,2.22, 950,11.4, 955,7.69, 960,7.14, 965,8.33, 968,7.69, 972,7,
    978,2.22, 981,7.69, 985,8.33, 990,7.14, 998,9.09, 1003,4, 1006,7.69, 1012,3.85, 1016,7.69, 1020,9.09, 1024,8.33, 1028,9.09,
    1032,8.33, 1036,7.69, 1040,7.14, 1045,6.5, 1049,3.33, 1054,4.76, 1060,5.26, 1065,4.55, 1070,4.2, 1077,4, 1079,8.33, 1083,9.09,
    1087,10, 1092,8.33, 1095,10.8, 1100,7.69, 1104,10, 1110,9.09, 1115,10, 1120,8.33, 1125,10, 1130,9.09, 1134,6.25, 1138,10,
    1143,9.09, 1150,9.09, 1155,7.69, 1160,8.33, 1165,9.09, 1170,8.33, 1173,7.69, 1176,10, 1180,8.33, 1184,10, 1188,8.33, 1193,10,
    1197,9.09, 1202,8.33, 1208,7.14, 1213,7.69, 1218,8.33, 1224,8.33, 1228,9.09, 1232,8.33, 1236,7.14, 1240,7.69, 1245,6.25,
    1250,7.14, 1256,8.33, 1262,7.69, 1268,8.33, 1272,7.14, 1276,7.69, 1280,3.85, 1283,7.14, 1287,3.7, 1292,7.69, 1296,6.67,
    1300,7.69, 1304,6.67, 1310,7.69, 1316,7.69, 1320,7.14, 1324,6.25, 1328,7.14, 1332,7.14, 1335,9.09, 1340,8.33, 1344,7.69]

blocks = [block_a, block_b, block_c, block_d, block_e, block_f, block_g]

# 刻度是等间距的, 共 6 段, 跨 173 天
n_span_days = 173
tick_labels = ['15 Dec\n   2024', '12 Jan\n   2025', '10 Feb\n   2025', '11 Mar\n   2025',
               '09 Apr\n   2025', '08 May\n   2025', '06 Jun\n   2025']
y_ticks = [2, 4, 6, 8, 10, 12, 14, 16]

start = mdates.date2num(np.datetime64('2024-12-15'))
days = np.concatenate([s + np.array(b[::2]) / SCAN_PER_DAY for s, b in zip(block_start, blocks)])
period = np.concatenate([np.array(b[1::2]) for b in blocks])

plt.rcParams['font.family'] = 'DejaVu Sans Mono'
dark = '#262626'

fig = plt.figure(figsize=(40, 22.5), dpi=100)
ax = fig.add_axes([0.13, 0.11, 0.775, 0.815])
ax.plot(start + days, period, color='#0072BD', linewidth=1.0)

ax.set_xlim(start, start + n_span_days)
ax.set_ylim(2, 16)
ax.set_xticks(np.linspace(start, start + n_span_days, len(tick_labels)))
ax.set_xticklabels(tick_labels, multialignment='left', linespacing=1.3)
ax.set_yticks(y_ticks)
ax.tick_params(axis='both', direction='in', length=22.3, width=0.8, color=dark, labelcolor=dark, labelsize=14.4)
ax.tick_params(axis='x', pad=7)
ax.tick_params(axis='y', pad=6)

# 日期标签整体往左挪一点
for lab in ax.get_xticklabels():
    lab.set_transform(lab.get_transform() + ScaledTranslation(-3 / 100, 0, fig.dpi_scale_trans))

ax.spines['top'].set_visible(False)
ax.spines['right'].set_visible(False)
ax.spines['left'].set_color(dark)
ax.spines['bottom'].set_color(dark)
ax.spines['left'].set_linewidth(0.8)
ax.spines['bottom'].set_linewidth(0.8)

ax.set_ylabel('S', fontsize=24, color=dark, labelpad=7)
fig.text(0.5175, 1 - 152 / 2250, 'A0149 DOMINANT WAVE PERIOD 3 at depth 0m', ha='center', va='baseline',
         fontsize=22.4, fontweight='bold', color='black')

fig.savefig('out.png', dpi=100)
